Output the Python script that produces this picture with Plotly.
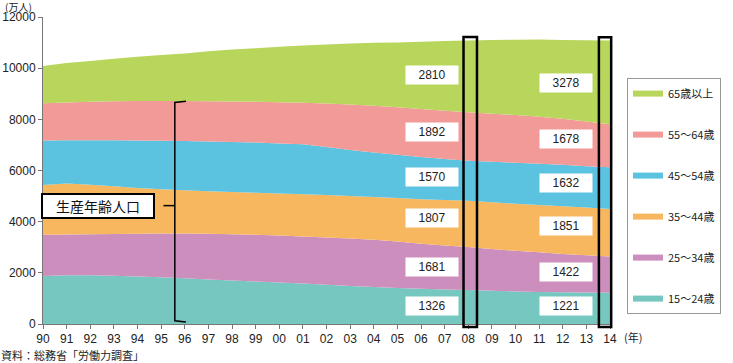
import plotly.graph_objects as go

years = list(range(1990, 2015))
year_labels = ["90", "91", "92", "93", "94", "95", "96", "97", "98", "99", "00", "01", "02",
               "03", "04", "05", "06", "07", "08", "09", "10", "11", "12", "13", "14"]

# 万人
age_15_24 = [1880, 1905, 1905, 1890, 1860, 1830, 1790, 1740, 1700, 1660, 1620, 1580, 1530,
             1490, 1450, 1410, 1380, 1350, 1326, 1300, 1270, 1250, 1240, 1230, 1221]
age_25_34 = [1610, 1595, 1605, 1630, 1670, 1705, 1745, 1790, 1810, 1830, 1840, 1840, 1850,
             1850, 1845, 1810, 1760, 1720, 1681, 1630, 1590, 1550, 1500, 1460, 1422]
age_35_44 = [1948, 1990, 1930, 1860, 1790, 1735, 1695, 1660, 1650, 1640, 1640, 1650, 1660,
             1660, 1665, 1705, 1740, 1775, 1807, 1830, 1840, 1850, 1860, 1860, 1851]
age_45_54 = [1738, 1690, 1745, 1800, 1850, 1890, 1920, 1940, 1950, 1960, 1960, 1960, 1880,
             1800, 1740, 1695, 1650, 1605, 1570, 1580, 1600, 1610, 1620, 1620, 1632]
age_55_64 = [1451, 1480, 1505, 1525, 1545, 1558, 1568, 1580, 1590, 1595, 1610, 1620, 1700,
             1780, 1830, 1850, 1870, 1890, 1892, 1880, 1870, 1840, 1800, 1750, 1678]
age_65_plus = [1462, 1539, 1593, 1665, 1729, 1792, 1853, 1951, 2028, 2098, 2166, 2236, 2307,
               2382, 2460, 2538, 2630, 2726, 2810, 2879, 2941, 3017, 3078, 3168, 3278]

series_names = ["15～24歳", "25～34歳", "35～44歳", "45～54歳", "55～64歳", "65歳以上"]
series_values = [age_15_24, age_25_34, age_35_44, age_45_54, age_55_64, age_65_plus]
series_colors = ["#76c7c0", "#cc8fbd", "#f7b75f", "#5bc2e0", "#f29a97", "#b8d65c"]

highlight_years = [2008, 2014]
label_year_positions = [2006.45, 2012.15]
label_y = {2008: [686, 2222, 4143, 5757, 7510, 9725],
           2014: [686, 2052, 3824, 5516, 7243, 9438]}

FONT = "Liberation Sans, Arial, Noto Sans CJK JP, sans-serif"
JFONT = "Noto Sans CJK JP"

fig = go.Figure()
for name, vals, col in zip(series_names, series_values, series_colors):
    fig.add_trace(go.Scatter(x=years, y=vals, name=name, stackgroup="one", mode="none",
                             fillcolor=col, showlegend=False, hoverinfo="skip"))

# legend entries (thick line swatches), top to bottom
for name, col in reversed(list(zip(series_names, series_colors))):
    fig.add_trace(go.Scatter(x=[None], y=[None], mode="lines", name=name, legendgroup=name,
                             line=dict(color=col, width=6)))

X0, X1 = years[0], years[-1]
YMAX = 12000


def px_x(yr):
    return (yr - X0) / (X1 - X0)


def px_y(v):
    return v / YMAX


# value boxes
annotations = []
for yr, lx in zip(highlight_years, label_year_positions):
    idx = years.index(yr)
    for k, vals in enumerate(series_values):
        annotations.append(dict(x=lx, y=label_y[yr][k], xref="x", yref="y", text=str(vals[idx]),
                                showarrow=False, bgcolor="white", width=50, height=16,
                                font=dict(family=FONT, size=12, color="#222")))

# highlight rectangles
shapes = []
totals = [sum(v[i] for v in series_values) for i in range(len(years))]
for yr, (a, b) in zip(highlight_years, [(-0.2, 0.37), (-0.47, 0.05)]):
    shapes.append(dict(type="rect", xref="paper", yref="paper",
                       x0=px_x(yr + a), x1=px_x(yr + b), y0=-0.01,
                       y1=px_y(totals[years.index(yr)] + 130),
                       line=dict(color="black", width=2.5), fillcolor="rgba(0,0,0,0)", layer="above"))

# brace for working-age population
bx = px_x(1995.58)
bx2 = px_x(1996.05)
bt = px_y(8706)
bb = px_y(78)
bm = px_y(4627)
btip = px_x(1995.1)
shapes.append(dict(type="path", xref="paper", yref="paper",
                   path=f"M {bx2},{bt} L {bx},{bt - 0.004} L {bx},{bb + 0.004} L {bx2},{bb}",
                   line=dict(color="black", width=1.5)))
shapes.append(dict(type="path", xref="paper", yref="paper",
                   path=f"M {btip},{bm} L {bx},{bm}",
                   line=dict(color="black", width=1.5)))

annotations.append(dict(x=-0.004, y=px_y(4627), xref="paper", yref="paper", xanchor="left",
                        text="生産年齢人口", showarrow=False, bgcolor="white", bordercolor="black",
                        borderwidth=2, width=108, height=20,
                        font=dict(family=JFONT, size=14, color="#111")))
annotations.append(dict(x=-0.071, y=1.035, xref="paper", yref="paper", xanchor="left", yanchor="middle",
                        text="(万人)", showarrow=False,
                        font=dict(family=JFONT, size=10, color="#222")))
annotations.append(dict(x=1.021, y=-0.042, xref="paper", yref="paper", xanchor="left", yanchor="middle",
                        text="(年)", showarrow=False,
                        font=dict(family=JFONT, size=11, color="#222")))
annotations.append(dict(x=-0.077, y=-0.101, xref="paper", yref="paper", xanchor="left", yanchor="middle",
                        text="資料：総務省「労働力調査」", showarrow=False,
                        font=dict(family=JFONT, size=11, color="#222")))

fig.update_layout(
    width=733, height=363,
    margin=dict(l=43, r=123, t=17, b=39, autoexpand=False),
    plot_bgcolor="white", paper_bgcolor="white",
    font=dict(family=FONT, size=12, color="#222"),
    xaxis=dict(range=[X0, X1], tickvals=years, ticktext=year_labels, ticks="outside", ticklen=4,
               tickcolor="#777", showline=True, linecolor="#777", linewidth=1, showgrid=False,
               zeroline=False, tickfont=dict(size=12), automargin=False),
    yaxis=dict(range=[0, YMAX], dtick=2000, tickformat="d", ticks="outside", ticklen=4,
               tickcolor="#777", showline=True, linecolor="#777", linewidth=1, showgrid=False,
               zeroline=False, tickfont=dict(size=12), automargin=False),
    legend=dict(x=1.03, y=0.801, xanchor="left", yanchor="top", bgcolor="white",
                bordercolor="#999", borderwidth=1, tracegroupgap=22,
                font=dict(family=JFONT, size=11, color="#222")),
    shapes=shapes, annotations=annotations, showlegend=True,
)

fig.write_html("out.html", config={"displayModeBar": False},
               post_script="document.body.style.margin='0';document.body.style.overflow='hidden';")
